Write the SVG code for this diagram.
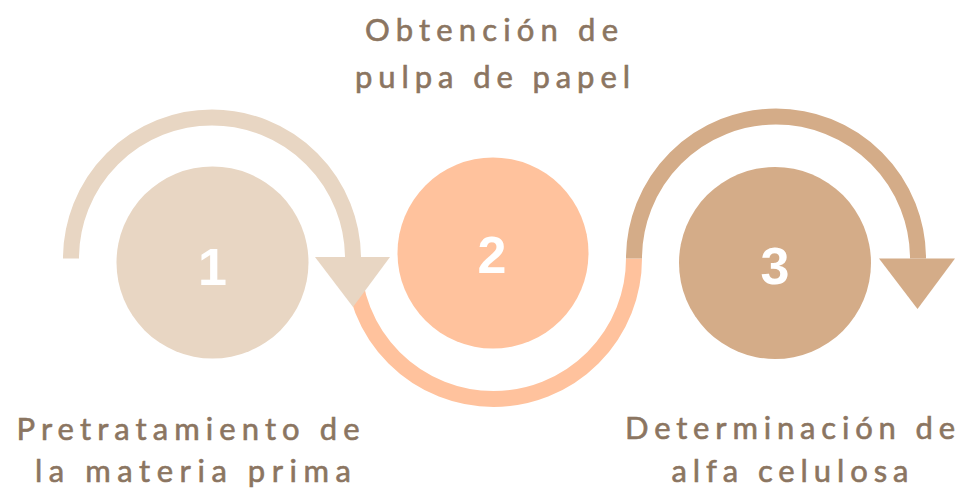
<svg xmlns="http://www.w3.org/2000/svg" width="966" height="500" viewBox="0 0 966 500">
  <style>
    .arc { fill: none; stroke-width: 16; stroke-linecap: butt; }
    .num { font-family: "Liberation Sans", Arial, sans-serif; font-weight: bold; font-size: 52px; fill: #ffffff; text-anchor: middle; }
    .lbl { font-family: "Lato", "Liberation Sans", sans-serif; font-size: 31px; fill: #8B7561; stroke: #8B7561; stroke-width: 0.6px; text-anchor: middle; }
    .beige { fill: #E8D6C3; }
    .peach { fill: #FFC29D; }
    .tan { fill: #D4AC88; }
  </style>
  <rect width="966" height="500" fill="#ffffff"/>
  <g id="connectors">
    <path class="arc" stroke="#E8D6C3" d="M71 258.5 A141 141 0 0 1 353 258.5"/>
    <path class="arc" stroke="#FFC29D" d="M353 258.5 A140.5 140.5 0 0 0 634 258.5"/>
    <polygon class="beige" points="315,257 390,257 353,307"/>
    <path class="arc" stroke="#D4AC88" d="M634 258.5 A142 142 0 0 1 918 258.5"/>
    <polygon class="tan" points="879,258.5 955,258.5 917.5,309"/>
  </g>
  <g id="node1">
    <circle class="beige" cx="212.5" cy="262.5" r="96"/>
    <text class="num" x="212.5" y="285">1</text>
    <text class="lbl" x="188" y="440" textLength="343" lengthAdjust="spacing">Pretratamiento de</text>
    <text class="lbl" x="193" y="482" textLength="316" lengthAdjust="spacing">la materia prima</text>
  </g>
  <g id="node2">
    <circle class="peach" cx="493" cy="253" r="95.5"/>
    <text class="num" x="492" y="273">2</text>
    <text class="lbl" x="491.5" y="41" textLength="253" lengthAdjust="spacing">Obtención de</text>
    <text class="lbl" x="492.5" y="88" textLength="275" lengthAdjust="spacing">pulpa de papel</text>
  </g>
  <g id="node3">
    <circle class="tan" cx="775" cy="263" r="96"/>
    <text class="num" x="775" y="284">3</text>
    <text class="lbl" x="790" y="439" textLength="330" lengthAdjust="spacing">Determinación de</text>
    <text class="lbl" x="790" y="482" textLength="237" lengthAdjust="spacing">alfa celulosa</text>
  </g>
</svg>
